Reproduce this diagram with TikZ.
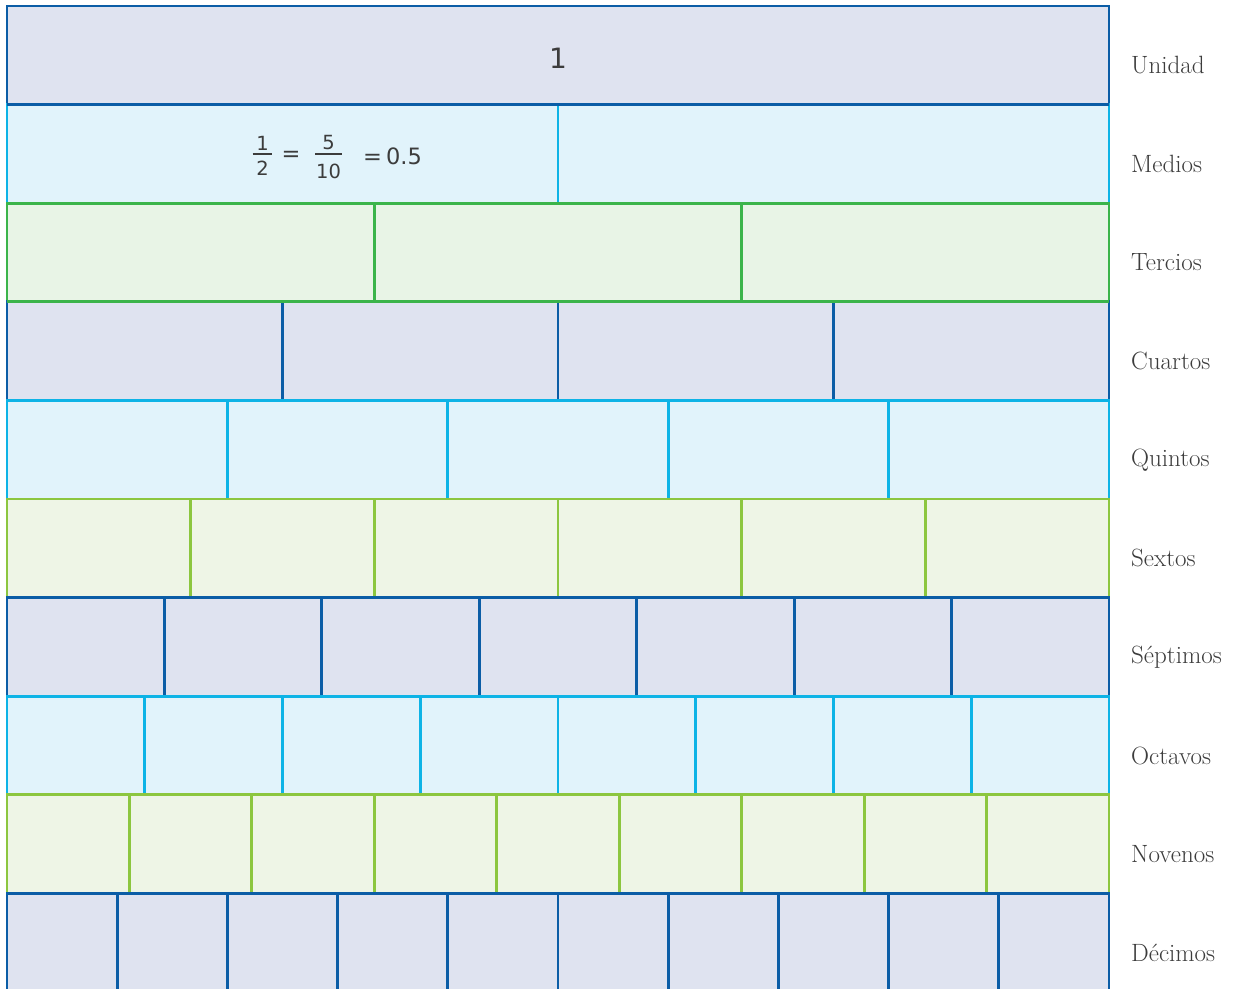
\documentclass[tikz,border=0pt]{standalone}
\usepackage{fontspec}
\newfontfamily\numfont{DejaVu Sans}
\definecolor{dbS}{HTML}{0B5DA6}
\definecolor{dbF}{HTML}{DFE3F0}
\definecolor{cyS}{HTML}{0DB3E6}
\definecolor{cyF}{HTML}{E1F3FB}
\definecolor{grS}{HTML}{3BB44A}
\definecolor{grF}{HTML}{E8F4E6}
\definecolor{lgS}{HTML}{8CC63F}
\definecolor{lgF}{HTML}{EEF5E6}
\definecolor{txt}{HTML}{3C3C3C}
\tikzset{
  cellrow/.style={line width=2.8pt},
  rowlabel/.style={anchor=west, font=\fontsize{25}{28}\selectfont, text=txt, inner sep=0pt},
  numlabel/.style={font=\numfont\fontsize{22.5}{26}\selectfont, text=txt, inner sep=0pt},
  fraclabel/.style={font=\numfont\fontsize{19.5}{23}\selectfont, text=txt, inner sep=0pt},
  fracbar/.style={draw=txt, line width=1.7pt}
}
\begin{document}
\begin{tikzpicture}[x=1pt,y=-1pt]
\useasboundingbox (0,0) rectangle (1241,988);
\fill[white] (0,0) rectangle (1241,988);
\def\L{7}\def\R{1109}\def\T{6}\def\H{98.6}
\begin{scope}
\clip (0,0) rectangle (1241,988);
\foreach \n/\s/\f/\name [count=\i from 0] in {1/dbS/dbF/Unidad,2/cyS/cyF/Medios,3/grS/grF/Tercios,4/dbS/dbF/Cuartos,5/cyS/cyF/Quintos,6/lgS/lgF/Sextos,7/dbS/dbF/S\'eptimos,8/cyS/cyF/Octavos,9/lgS/lgF/Novenos,10/dbS/dbF/D\'ecimos}{
  \pgfmathsetmacro\ya{\T+\i*\H}
  \pgfmathsetmacro\yb{\T+(\i+1)*\H}
  \draw[cellrow, draw=\s, fill=\f] (\L,\ya) rectangle (\R,\yb);
  \ifnum\n>1
    \foreach \k in {1,...,\numexpr\n-1\relax}{
      \pgfmathsetmacro\xx{\L+\k*(\R-\L)/\n}
      \draw[cellrow, draw=\s] (\xx,\ya) -- (\xx,\yb);
    }
  \fi
  \node[rowlabel] (lab\n) at (1131,{\ya+\H/2+10}) {\name};
}
% boundaries that show the colour of the upper row
\draw[cellrow, draw=dbS] (\L,{\T+\H}) -- (\R,{\T+\H});
\draw[cellrow, draw=grS] (\L,{\T+3*\H}) -- (\R,{\T+3*\H});
\end{scope}
\node[numlabel, font=\numfont\fontsize{28}{32}\selectfont] (one) at (558,58) {1};
% 1/2 = 5/10 = 0.5
\node[fraclabel] (n1) at (262.5,143) {1};
\node[fraclabel] (d1) at (262.5,168.5) {2};
\draw[fracbar] (252.7,154.3) -- (272.3,154.3);
\node[numlabel] (eq1) at (291,156.5) {=};
\node[fraclabel] (n2) at (328.5,142.5) {5};
\node[fraclabel] (d2) at (328.5,171) {10};
\draw[fracbar] (315,154.3) -- (341.7,154.3);
\node[numlabel, anchor=west] (dec) at (363,156.5) {=\hspace{4pt}0.5};
\end{tikzpicture}
\end{document}
